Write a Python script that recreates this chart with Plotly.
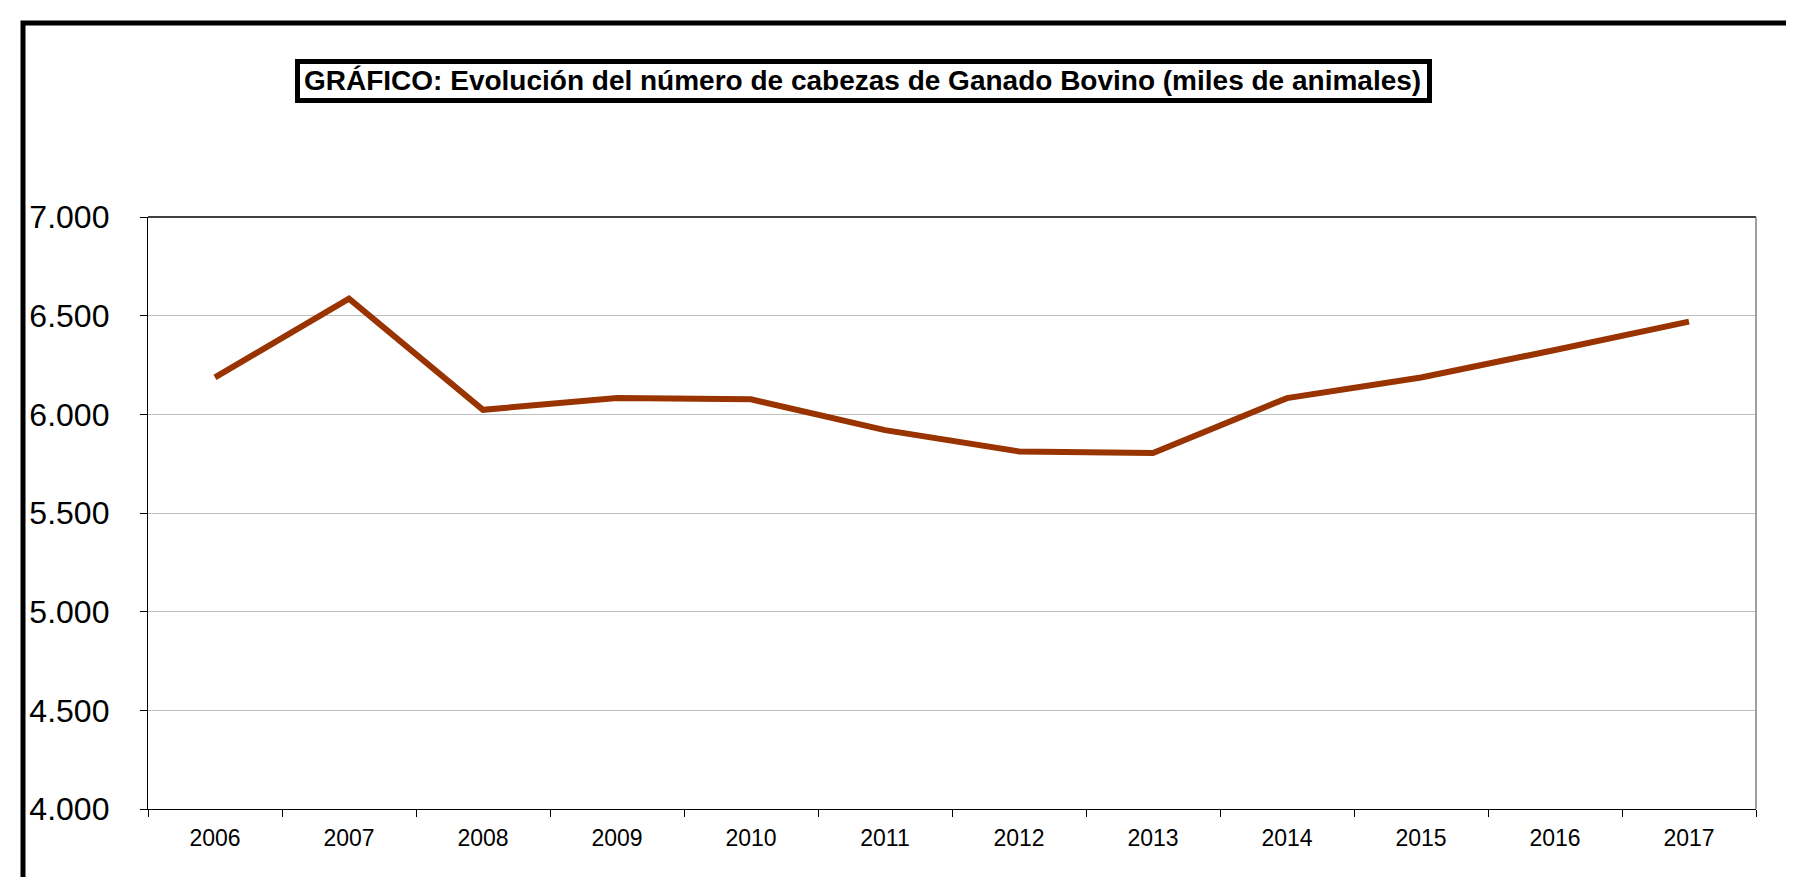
import plotly.graph_objects as go

years = ["2006", "2007", "2008", "2009", "2010", "2011", "2012", "2013", "2014", "2015", "2016", "2017"]
heads = [6187, 6586, 6023, 6083, 6076, 5920, 5812, 5804, 6082, 6187, 6326, 6470]
y_ticks = [4000, 4500, 5000, 5500, 6000, 6500, 7000]
title_text = "GRÁFICO: Evolución del número de cabezas de Ganado Bovino (miles de animales)"

W, H = 1794, 877
L, R, T, B = 140, 1748, 209, 801  # plot area in px

def px(x):
    return (x - L) / (R - L)

def py(y):
    return (B - y) / (B - T)

fig = go.Figure()
fig.add_trace(go.Scatter(
    x=years, y=heads, mode="lines",
    line=dict(color="#993300", width=6),
    hoverinfo="x+y", showlegend=False,
))

shapes = [
    # outer frame
    dict(type="rect", xref="paper", yref="paper",
         x0=px(15), x1=px(1793), y0=py(15), y1=py(960),
         line=dict(color="black", width=5), fillcolor="rgba(0,0,0,0)", layer="above"),
    # title box
    dict(type="rect", xref="paper", yref="paper",
         x0=px(289.5), x1=px(1421.5), y0=py(53.5), y1=py(92.5),
         line=dict(color="black", width=5), fillcolor="white", layer="below"),
    # top border of plot (black)
    dict(type="line", xref="paper", yref="paper", x0=0, x1=1, y0=1, y1=1,
         line=dict(color="black", width=1.3)),
    # right border of plot (gray)
    dict(type="line", xref="paper", yref="paper", x0=1, x1=1, y0=0, y1=1,
         line=dict(color="#808080", width=1.5)),
]

fig.update_layout(
    width=W, height=H,
    margin=dict(l=L, r=W - R, t=T, b=H - B),
    paper_bgcolor="white", plot_bgcolor="white",
    separators=",.",
    font=dict(family="Arial, Liberation Sans, sans-serif", color="black"),
    shapes=shapes,
    annotations=[dict(
        text="<b>" + title_text + "</b>", xref="paper", yref="paper",
        x=px(854), y=py(73), xanchor="center", yanchor="middle",
        showarrow=False, font=dict(size=28, color="black",
                                   family="Arial, Liberation Sans, sans-serif"),
    )],
    xaxis=dict(
        type="category", range=[-0.5, 11.5], tickson="boundaries", ticks="outside", ticklen=7,
        tickcolor="black", tickwidth=1, showline=True, linecolor="black", linewidth=1.3,
        showgrid=False, tickfont=dict(size=23), ticklabelstandoff=8,
    ),
    yaxis=dict(
        range=[4000, 7000], tickvals=y_ticks, tickformat=",d", ticks="outside",
        ticklen=7, tickcolor="black", tickwidth=1, showline=True, linecolor="black",
        linewidth=1.3, showgrid=True, gridcolor="#C0C0C0", gridwidth=1,
        zeroline=False, tickfont=dict(size=32), ticklabelstandoff=24,
    ),
)

fig.write_html("out.html")
